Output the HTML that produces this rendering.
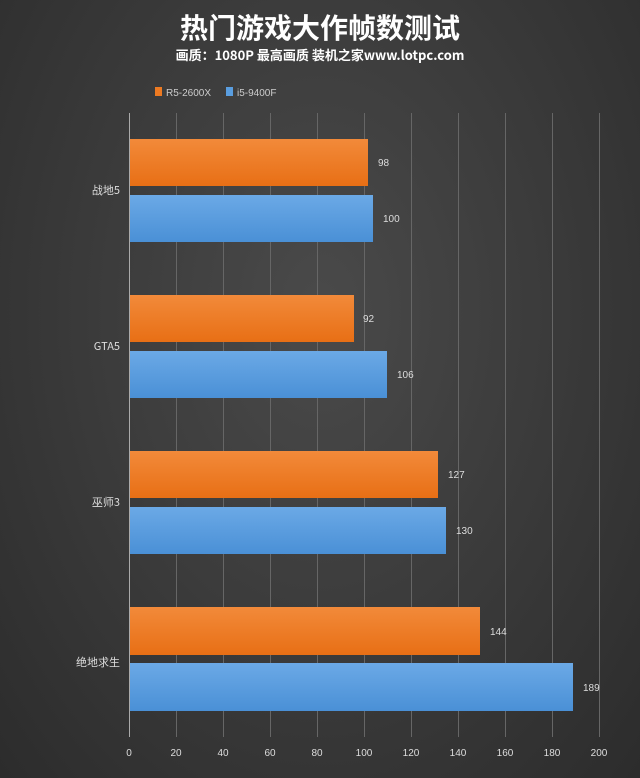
<!DOCTYPE html>
<html><head><meta charset="utf-8"><style>
body{margin:0;width:640px;height:778px;overflow:hidden;background:radial-gradient(ellipse at 50% 40%,#4a4a4a 0%,#383838 60%,#2c2c2c 100%);font-family:"Liberation Sans","Noto Sans CJK SC",sans-serif;}
</style></head><body>
<svg width="640" height="778" xmlns="http://www.w3.org/2000/svg" style="position:absolute;left:0;top:0">
<defs>
<linearGradient id="o" x1="0" y1="0" x2="0" y2="1"><stop offset="0" stop-color="#f28a3a"/><stop offset="1" stop-color="#e86f15"/></linearGradient>
<linearGradient id="b" x1="0" y1="0" x2="0" y2="1"><stop offset="0" stop-color="#6ba9e6"/><stop offset="1" stop-color="#4a90d6"/></linearGradient>
</defs>
<text x="320" y="38" fill="#fff" font-size="28" font-weight="bold" text-anchor="middle" font-family="Noto Sans CJK SC,sans-serif">热门游戏大作帧数测试</text>
<text x="320" y="60" fill="#fff" font-size="13" font-weight="bold" text-anchor="middle" font-family="Noto Sans CJK SC,sans-serif">画质：1080P 最高画质 装机之家www.lotpc.com</text>
<rect x="155" y="87" width="7" height="9" fill="#ed7a22"/>
<text x="166" y="96" fill="#ccc" font-size="10">R5-2600X</text>
<rect x="226" y="87" width="7" height="9" fill="#5a9ee0"/>
<text x="237" y="96" fill="#ccc" font-size="10">i5-9400F</text>
<g stroke="#666" stroke-width="1">
<line x1="176.5" y1="113" x2="176.5" y2="737"/><line x1="223.5" y1="113" x2="223.5" y2="737"/><line x1="270.5" y1="113" x2="270.5" y2="737"/><line x1="317.5" y1="113" x2="317.5" y2="737"/><line x1="364.5" y1="113" x2="364.5" y2="737"/><line x1="411.5" y1="113" x2="411.5" y2="737"/><line x1="458.5" y1="113" x2="458.5" y2="737"/><line x1="505.5" y1="113" x2="505.5" y2="737"/><line x1="552.5" y1="113" x2="552.5" y2="737"/><line x1="599.5" y1="113" x2="599.5" y2="737"/>
</g>
<line x1="129.5" y1="113" x2="129.5" y2="737" stroke="#aaa"/>
<g>
<rect x="130" y="139" width="238" height="47" fill="url(#o)"/>
<rect x="130" y="195" width="243" height="47" fill="url(#b)"/>
<rect x="130" y="295" width="224" height="47" fill="url(#o)"/>
<rect x="130" y="351" width="257" height="47" fill="url(#b)"/>
<rect x="130" y="451" width="308" height="47" fill="url(#o)"/>
<rect x="130" y="507" width="316" height="47" fill="url(#b)"/>
<rect x="130" y="607" width="350" height="48" fill="url(#o)"/>
<rect x="130" y="663" width="443" height="48" fill="url(#b)"/>
</g>
<g fill="#ddd" font-size="10">
<text x="378" y="166">98</text><text x="383" y="222">100</text>
<text x="363" y="322">92</text><text x="397" y="378">106</text>
<text x="448" y="478">127</text><text x="456" y="534">130</text>
<text x="490" y="635">144</text><text x="583" y="691">189</text>
</g>
<g fill="#ddd" font-size="11" text-anchor="end" font-family="Noto Sans CJK SC,sans-serif">
<text x="120" y="194">战地5</text><text x="120" y="350">GTA5</text><text x="120" y="506">巫师3</text><text x="120" y="666">绝地求生</text>
</g>
<g fill="#ddd" font-size="10" text-anchor="middle">
<text x="129" y="756">0</text><text x="176" y="756">20</text><text x="223" y="756">40</text><text x="270" y="756">60</text><text x="317" y="756">80</text><text x="364" y="756">100</text><text x="411" y="756">120</text><text x="458" y="756">140</text><text x="505" y="756">160</text><text x="552" y="756">180</text><text x="599" y="756">200</text>
</g>
</svg>
</body></html>
